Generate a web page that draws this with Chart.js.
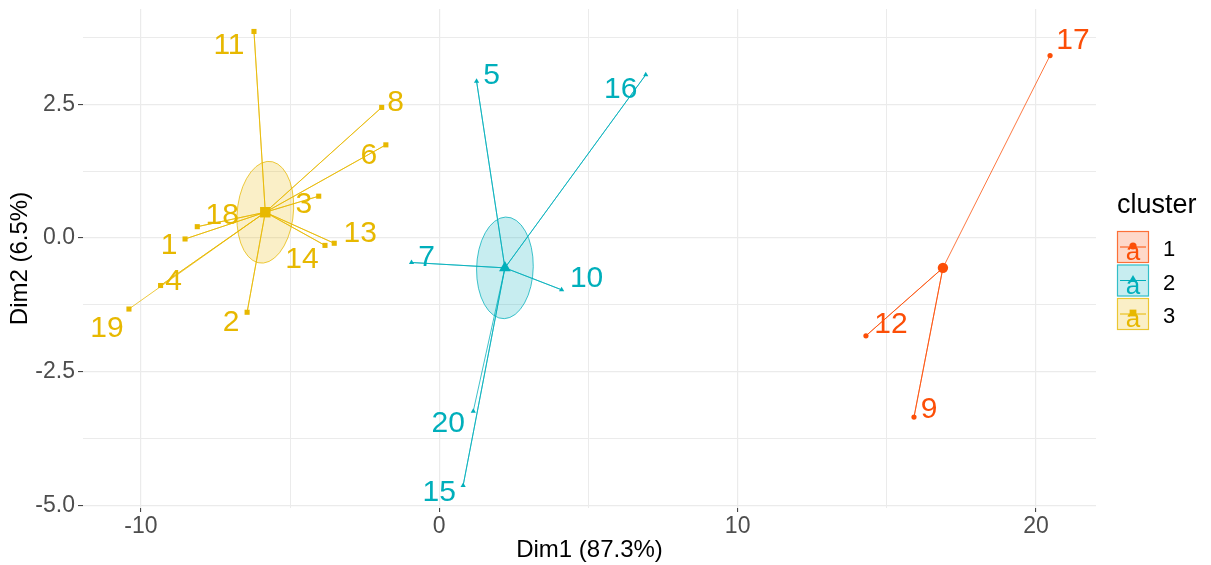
<!DOCTYPE html>
<html>
<head>
<meta charset="utf-8">
<title>Cluster plot</title>
<script src="https://cdn.jsdelivr.net/npm/chart.js@4.4.1/dist/chart.umd.min.js"></script>
<style>
  html, body { margin: 0; padding: 0; background: #ffffff; }
  canvas { display: block; }
</style>
</head>
<body>
<canvas id="chart" width="1211" height="565"></canvas>
<script>
// ---- data -------------------------------------------------------------
const obsLabels = ['1','2','3','4','5','6','7','8','9','10',
                   '11','12','13','14','15','16','17','18','19','20'];
const dim1 = [-8.52, -6.44, -4.04, -9.34, 1.25, -1.79, -0.93, -1.93, 15.91, 4.10,
              -6.21, 14.30, -3.52, -3.83, 0.80, 6.92, 20.47, -8.11, -10.40, 1.14];
const dim2 = [-0.02, -1.39, 0.78, -0.89, 2.93, 1.74, -0.46, 2.44, -3.35, -0.97,
              3.86, -1.83, -0.10, -0.14, -4.63, 3.05, 3.41, 0.21, -1.33, -3.24];
const clusterOf = [3, 3, 3, 3, 2, 3, 2, 3, 1, 2, 3, 1, 3, 3, 2, 2, 1, 3, 3, 2];

const clusterIds = ['1', '2', '3'];
const centerDim1 = [16.88, 2.20, -5.83];
const centerDim2 = [-0.56, -0.56, 0.48];

// confidence ellipse around each cluster centre (Dim units, degrees); cluster 1 has none
const ellipseA = [null, 0.97, 1.01];
const ellipseB = [null, 0.93, 0.89];
const ellipseAngle = [null, 45, 45];

const xTicksMajor = [-10, 0, 10, 20];
const xTickLabels = ['-10', '0', '10', '20'];
const xTicksMinor = [-5, 5, 15];
const yTicksMajor = [-5, -2.5, 0, 2.5];
const yTickLabels = ['-5.0', '-2.5', '0.0', '2.5'];
const yTicksMinor = [-3.75, -1.25, 1.25, 3.75];

// ---- styling ----------------------------------------------------------
const clusterColors = ['#FC4E07', '#00AFBB', '#E7B800'];
const clusterShapes = ['circle', 'triangle', 'rect'];
const pointSize = [2.6, 3.0, 3.6];
const centerSize = [5.2, 6.8, 7.4];
// label offsets from their point, in pixels
const labelNudge = [
  [-16, 7], [-16, 10], [-15, 9], [13, -4], [15, -5], [-17, 11], [15, -5], [14, -5], [15, -7], [25, -11],
  [-25, 14], [25, -11], [26, -10], [-23, 14], [-24, 7], [-25, 15], [23, -15], [25, -11], [-22, 20], [-25, 13]
];
const FONT = "'Liberation Sans', Arial, Helvetica, sans-serif";

function withAlpha(hex, a) {
  const n = parseInt(hex.slice(1), 16);
  return `rgba(${(n >> 16) & 255},${(n >> 8) & 255},${n & 255},${a})`;
}

// ---- datasets ---------------------------------------------------------
const datasets = [];
clusterIds.forEach((cid, k) => {
  const idx = [];
  clusterOf.forEach((c, i) => { if (String(c) === cid) idx.push(i); });
  const centre = { x: centerDim1[k], y: centerDim2[k] };
  // star: centre -> member -> centre -> next member ...
  const star = [];
  idx.forEach(i => { star.push(centre); star.push({ x: dim1[i], y: dim2[i] }); });
  datasets.push({
    label: 'star ' + cid,
    data: star,
    showLine: true,
    borderColor: withAlpha(clusterColors[k], 0.85),
    borderWidth: 0.9,
    pointRadius: 0,
    pointHoverRadius: 0,
    tension: 0,
    order: 3
  });
  datasets.push({
    label: 'cluster ' + cid,
    data: idx.map(i => ({ x: dim1[i], y: dim2[i] })),
    pointStyle: clusterShapes[k],
    pointRadius: pointSize[k],
    backgroundColor: clusterColors[k],
    borderColor: clusterColors[k],
    pointBorderWidth: 0,
    showLine: false,
    order: 2
  });
  datasets.push({
    label: 'centre ' + cid,
    data: [centre],
    pointStyle: clusterShapes[k],
    pointRadius: centerSize[k],
    backgroundColor: clusterColors[k],
    borderColor: clusterColors[k],
    pointBorderWidth: 0,
    showLine: false,
    order: 1
  });
});

// ---- plugins ----------------------------------------------------------
const ellipsePlugin = {
  id: 'ellipses',
  beforeDatasetsDraw(chart) {
    const { ctx, scales: { x, y } } = chart;
    const sx = x.getPixelForValue(1) - x.getPixelForValue(0);
    const sy = y.getPixelForValue(1) - y.getPixelForValue(0);
    clusterIds.forEach((cid, k) => {
      if (ellipseA[k] == null) return;
      ctx.save();
      ctx.beginPath();
      ctx.save();
      ctx.translate(x.getPixelForValue(centerDim1[k]), y.getPixelForValue(centerDim2[k]));
      ctx.scale(sx, sy);
      ctx.rotate(ellipseAngle[k] * Math.PI / 180);
      ctx.ellipse(0, 0, ellipseA[k], ellipseB[k], 0, 0, Math.PI * 2);
      ctx.restore();
      ctx.fillStyle = withAlpha(clusterColors[k], 0.22);
      ctx.fill();
      ctx.strokeStyle = withAlpha(clusterColors[k], 0.75);
      ctx.lineWidth = 1;
      ctx.stroke();
      ctx.restore();
    });
  }
};

const labelPlugin = {
  id: 'pointLabels',
  afterDatasetsDraw(chart) {
    const { ctx, scales: { x, y } } = chart;
    ctx.save();
    ctx.font = `30px ${FONT}`;
    ctx.textAlign = 'center';
    ctx.textBaseline = 'middle';
    obsLabels.forEach((lab, i) => {
      const k = clusterOf[i] - 1;
      ctx.fillStyle = clusterColors[k];
      ctx.fillText(lab, x.getPixelForValue(dim1[i]) + labelNudge[i][0],
                        y.getPixelForValue(dim2[i]) + labelNudge[i][1]);
    });
    ctx.restore();
  }
};

const legendPlugin = {
  id: 'clusterLegend',
  afterDraw(chart) {
    const ctx = chart.ctx;
    const left = chart.chartArea.right + 21;
    ctx.save();
    ctx.fillStyle = '#000000';
    ctx.font = `27px ${FONT}`;
    ctx.textAlign = 'left';
    ctx.textBaseline = 'alphabetic';
    ctx.fillText('cluster', left, 213);
    const box = 32, pitch = 33.5, top0 = 231;
    clusterIds.forEach((cid, k) => {
      const bx = left, by = top0 + k * pitch;
      const cx = bx + box / 2, cy = by + box / 2;
      const col = clusterColors[k];
      ctx.fillStyle = withAlpha(col, 0.22);
      ctx.fillRect(bx, by, box, box);
      ctx.strokeStyle = withAlpha(col, 0.75);
      ctx.lineWidth = 1.2;
      ctx.strokeRect(bx + 0.5, by + 0.5, box - 1, box - 1);
      ctx.strokeStyle = col;
      ctx.lineWidth = 1;
      ctx.beginPath();
      ctx.moveTo(bx + 3, cy);
      ctx.lineTo(bx + box - 3, cy);
      ctx.stroke();
      ctx.fillStyle = col;
      Chart.helpers.drawPoint(ctx, {
        pointStyle: clusterShapes[k], radius: [3.6, 4.6, 4.8][k], rotation: 0, borderWidth: 0
      }, cx, cy - 1);
      ctx.font = `26px ${FONT}`;
      ctx.textAlign = 'center';
      ctx.textBaseline = 'alphabetic';
      ctx.fillText('a', cx, by + box - 3);
      ctx.fillStyle = '#000000';
      ctx.font = `22px ${FONT}`;
      ctx.fillText(cid, left + 52, cy + 9);
    });
    ctx.restore();
  }
};

// ---- axes helpers -----------------------------------------------------
function setTicks(major, minor) {
  return scale => {
    scale.ticks = major.concat(minor).sort((a, b) => a - b).map(v => ({ value: v }));
  };
}
function isMajor(list, v) { return list.some(m => Math.abs(m - v) < 1e-9); }
function noEdgePadding(scale) {
  scale.paddingTop = 0;
  scale.paddingBottom = 0;
  scale.paddingLeft = 0;
  scale.paddingRight = 0;
}

Chart.defaults.font.family = FONT;

new Chart(document.getElementById('chart'), {
  type: 'scatter',
  data: { datasets },
  plugins: [ellipsePlugin, labelPlugin, legendPlugin],
  options: {
    responsive: false,
    animation: false,
    layout: { padding: { left: 0, top: 9, right: 115, bottom: 0 } },
    plugins: { legend: { display: false }, tooltip: { enabled: false } },
    scales: {
      x: {
        type: 'linear',
        min: -11.94,
        max: 22.01,
        afterBuildTicks: setTicks(xTicksMajor, xTicksMinor),
        afterFit: scale => { scale.height = 57; noEdgePadding(scale); },
        border: { display: false },
        grid: {
          color: '#EBEBEB',
          lineWidth: c => isMajor(xTicksMajor, c.tick.value) ? 1.2 : 1,
          tickLength: 4,
          tickColor: c => isMajor(xTicksMajor, c.tick.value) ? '#333333' : 'rgba(0,0,0,0)',
          tickWidth: 1
        },
        ticks: {
          font: { size: 23 },
          color: '#4D4D4D',
          padding: 1,
          maxRotation: 0,
          autoSkip: false,
          callback: v => {
            const i = xTicksMajor.findIndex(m => Math.abs(m - v) < 1e-9);
            return i >= 0 ? xTickLabels[i] : '';
          }
        },
        title: {
          display: true,
          text: 'Dim1 (87.3%)',
          color: '#000000',
          font: { size: 24 },
          padding: { top: 0, bottom: 0 }
        }
      },
      y: {
        type: 'linear',
        min: -5.05,
        max: 4.28,
        afterBuildTicks: setTicks(yTicksMajor, yTicksMinor),
        afterFit: scale => { scale.width = 83; noEdgePadding(scale); },
        border: { display: false },
        grid: {
          color: '#EBEBEB',
          lineWidth: c => isMajor(yTicksMajor, c.tick.value) ? 1.2 : 1,
          tickLength: 5,
          tickColor: c => isMajor(yTicksMajor, c.tick.value) ? '#333333' : 'rgba(0,0,0,0)',
          tickWidth: 1
        },
        ticks: {
          font: { size: 23 },
          color: '#4D4D4D',
          padding: 3,
          autoSkip: false,
          callback: v => {
            const i = yTicksMajor.findIndex(m => Math.abs(m - v) < 1e-9);
            return i >= 0 ? yTickLabels[i] : '';
          }
        },
        title: {
          display: true,
          text: 'Dim2 (6.5%)',
          color: '#000000',
          font: { size: 24 },
          padding: { top: 6, bottom: 0 }
        }
      }
    }
  }
});
</script>
</body>
</html>
